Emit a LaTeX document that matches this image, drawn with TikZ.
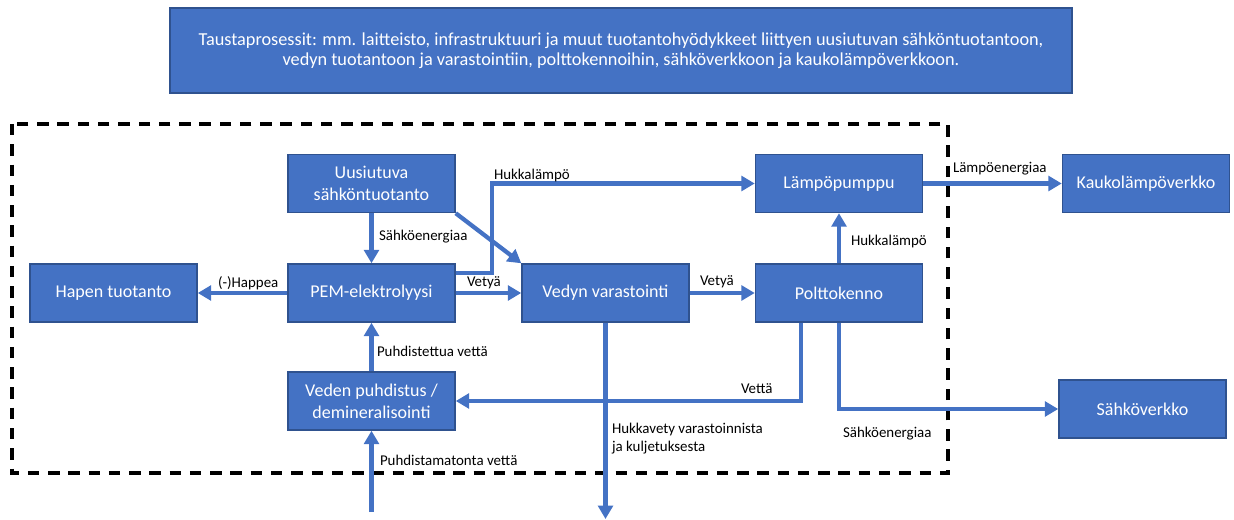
\documentclass[tikz,border=0pt]{standalone}
\usepackage{fontspec}
\setmainfont{Carlito}
\usetikzlibrary{arrows.meta}
\definecolor{offblue}{HTML}{4472C4}
\definecolor{offedge}{HTML}{2F528F}
\newcommand{\fU}{\fontsize{13.5}{16.5}\selectfont}
\newcommand{\fL}{\fontsize{11.2}{13.5}\selectfont}
\newcommand{\fT}{\fontsize{13.7}{15.2}\selectfont}
\tikzset{
  unit/.style={draw=offedge,fill=offblue,line width=1.1pt,text=white,align=center,
    minimum width=125.25pt,minimum height=43.5pt,inner sep=1pt,font=\fU},
  flowlabel/.style={inner sep=0pt,outer sep=0pt,anchor=west,font=\fL}}

\begin{document}
\begin{tikzpicture}[x=0.75pt,y=-0.75pt,
    flow/.style={draw=offblue,line width=3.2pt,-{Triangle[length=10pt,width=11pt]}},
    border/.style={draw=black,line width=3pt,dash pattern=on 8.6pt off 6.6pt}]
  \path[use as bounding box] (0,0) rectangle (1234,520);

  % Background processes
  \node[unit,minimum width=676.5pt,minimum height=63.75pt,font=\fT] (tausta) at (621,50.5)
    {Taustaprosessit: mm. laitteisto, infrastruktuuri ja muut tuotantohyödykkeet liittyen uusiutuvan sähköntuotantoon,\\
     vedyn tuotantoon ja varastointiin, polttokennoihin, sähköverkkoon ja kaukolämpöverkkoon.};

  % System boundary
  \draw[border] (12,124) rectangle (948,473);

  % Process units
  \node[unit] (uusi) at (371.5,183.5) {Uusiutuva\\sähköntuotanto};
  \node[unit] (hapen) at (113.5,293) {Hapen tuotanto};
  \node[unit] (pem) at (371.5,293) {PEM-elektrolyysi};
  \node[unit] (vedyn) at (605.5,293) {Vedyn varastointi};
  \node[unit] (polt) at (839,293) {Polttokenno};
  \node[unit] (lampo) at (839,183.5) {Lämpöpumppu};
  \node[unit] (veden) at (371.5,401) {Veden puhdistus /\\demineralisointi};
  \node[unit] (kauko) at (1146,183.5) {Kaukolämpöverkko};
  \node[unit] (sahko) at (1142.5,409) {Sähköverkko};

  % Flows
  \coordinate (hk) at (492,273);
  \coordinate (raaka) at (371.5,512);
  \coordinate (hukka) at (605.5,519);
  \coordinate (vesi) at (801,401);
  \draw[flow] (uusi.south) -- (pem.north);
  \draw[flow] (uusi.south east) -- (vedyn.north west);
  \draw[flow] (pem.east |- hk) -- (hk) |- (lampo.west);
  \draw[flow] (pem.east) -- (vedyn.west);
  \draw[flow] (vedyn.east) -- (polt.west);
  \draw[flow] (polt.north) -- (lampo.south);
  \draw[flow] (lampo.east) -- (kauko.west);
  \draw[flow] (pem.west) -- (hapen.east);
  \draw[flow] (veden.north) -- (pem.south);
  \draw[flow] (raaka) -- (veden.south);
  \draw[flow] (vedyn.south) -- (hukka);
  \draw[flow] (polt.south -| vesi) -- (vesi) -- (veden.east);
  \draw[flow] (polt.south) |- (sahko.west);

  % Flow labels
  \node[flowlabel] (lsahko) at (379,237) {Sähköenergiaa};
  \node[flowlabel] (lhukka) at (494,176) {Hukkalämpö};
  \node[flowlabel] (lvety) at (467,283) {Vetyä};
  \node[flowlabel] (lvetyb) at (700,282) {Vetyä};
  \node[flowlabel] (lhukkab) at (851,242) {Hukkalämpö};
  \node[flowlabel] (lhappi) at (218,283) {(-)Happea};
  \node[flowlabel] (llampo) at (953,169) {Lämpöenergiaa};
  \node[flowlabel] (lpuhd) at (377,351) {Puhdistettua vettä};
  \node[flowlabel] (lvesi) at (741,389) {Vettä};
  \node[flowlabel,align=left] (lhukkavety) at (612,439) {Hukkavety varastoinnista\\ja kuljetuksesta};
  \node[flowlabel] (lraaka) at (380,460) {Puhdistamatonta vettä};
  \node[flowlabel] (lsahkob) at (843,434) {Sähköenergiaa};
\end{tikzpicture}
\end{document}
